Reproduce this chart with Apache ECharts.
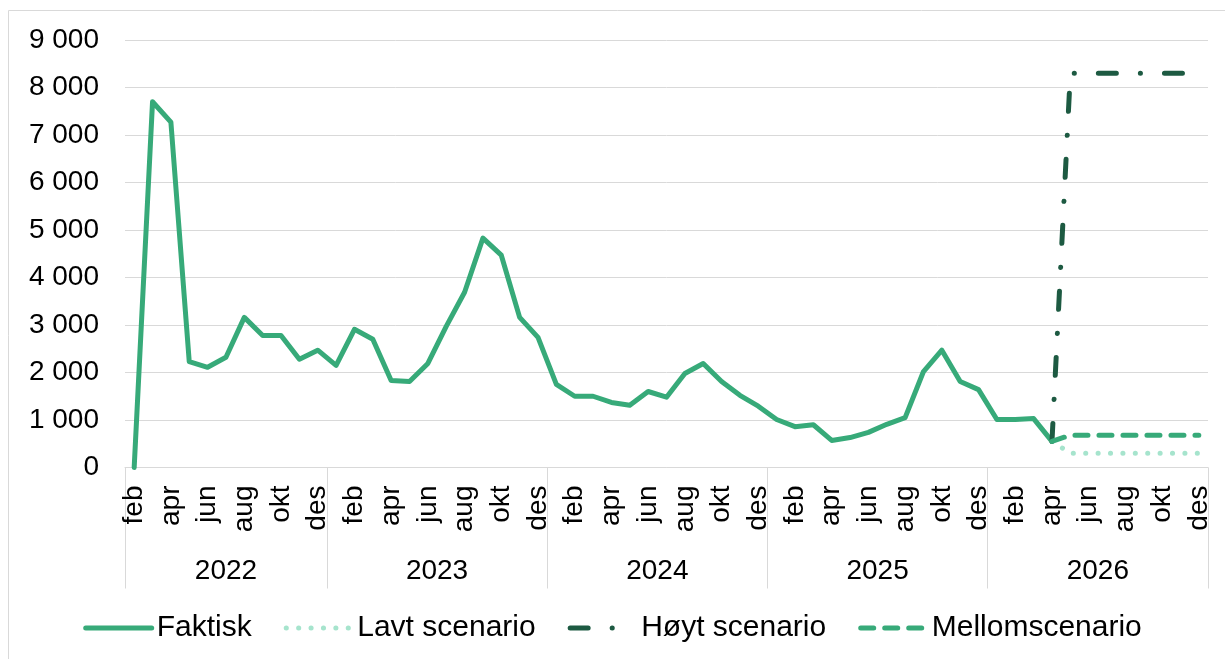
<!DOCTYPE html>
<html>
<head>
<meta charset="utf-8">
<script src="https://cdn.jsdelivr.net/npm/echarts@6/dist/echarts.min.js"></script>
<style>
  html, body { margin: 0; padding: 0; background: #fff; }
  #main { width: 1225px; height: 659px; }
</style>
</head>
<body>
<div id="main"></div>
<script>
// månedsnavn og år
var months = ['jan', 'feb', 'mar', 'apr', 'mai', 'jun', 'jul', 'aug', 'sep', 'okt', 'nov', 'des'];
var years = ['2022', '2023', '2024', '2025', '2026'];

// faktisk: feb 2022 - apr 2026
var faktisk = [
    0, 7700, 7270, 2230, 2110, 2320, 3160, 2780, 2780, 2280, 2470,
    2150, 2910, 2700, 1830, 1810, 2190, 2970, 3690, 4830, 4470, 3160, 2740,
    1750, 1500, 1500, 1370, 1310, 1600, 1480, 1980, 2190, 1810, 1520, 1290,
    1010, 860, 900, 570, 630, 740, 910, 1050, 2020, 2470, 1810, 1640,
    1010, 1010, 1030, 550
];
// scenarier: apr 2026 - des 2026
var lavt = [550, 300, 300, 300, 300, 300, 300, 300, 300];
var hoyt = [550, 8300, 8300, 8300, 8300, 8300, 8300, 8300, 8300];
var mellom = [550, 680, 680, 680, 680, 680, 680, 680, 680];

var categories = [];
years.forEach(function (y, i) {
    months.forEach(function (m, j) {
        if (i === 0 && j === 0) return; // starter i feb 2022
        categories.push(y + '-' + m);
    });
});

// år: grenser og midtpunkt i antall måneder fra start
var yearBounds = [0];
var yearMid = [];
var count = 0;
years.forEach(function (y, i) {
    var n = i === 0 ? 11 : 12;
    yearMid.push(count + n / 2);
    count += n;
    yearBounds.push(count);
});

function pad(arr, before) {
    var out = [];
    for (var i = 0; i < before; i++) out.push(null);
    return out.concat(arr);
}
var startScen = faktisk.length - 1;

var font = 'Liberation Sans, Arial, sans-serif';
var grey = '#d9d9d9';

var myChart = echarts.init(document.getElementById('main'));

var option = {
    animation: false,
    textStyle: { fontFamily: font },
    grid: { left: 125, right: 17, top: 40, bottom: 191.5, containLabel: false },
    legend: {
        top: 608,
        left: 'center',
        itemWidth: 66,
        itemHeight: 14,
        itemGap: 32,
        itemStyle: { opacity: 0, borderWidth: 0 },
        lineStyle: { width: 5, cap: 'round' },
        textStyle: { fontSize: 30, color: '#000', fontFamily: font },
        data: ['Faktisk', 'Lavt scenario', 'Høyt scenario', 'Mellomscenario']
    },
    xAxis: [{
        type: 'category',
        data: categories,
        boundaryGap: true,
        axisLine: { lineStyle: { color: grey, width: 1 } },
        axisTick: { show: false },
        axisLabel: {
            interval: 1,
            rotate: 90,
            margin: 18,
            fontSize: 28,
            color: '#000',
            fontFamily: font,
            formatter: function (v) { return v.split('-')[1]; }
        }
    }, {
        type: 'value',
        position: 'bottom',
        min: 0,
        max: count,
        axisLine: { show: false },
        splitLine: { show: false },
        axisTick: {
            show: true,
            length: 121,
            customValues: yearBounds,
            lineStyle: { color: grey, width: 1 }
        },
        axisLabel: {
            customValues: yearMid,
            margin: 90,
            fontSize: 28,
            color: '#000',
            fontFamily: font,
            formatter: function (v) {
                return years[yearMid.indexOf(v)] || '';
            }
        }
    }],
    yAxis: {
        type: 'value',
        min: 0,
        max: 9000,
        interval: 1000,
        axisLine: { show: false },
        axisTick: { show: false },
        splitLine: { lineStyle: { color: grey, width: 1 } },
        axisLabel: {
            margin: 26,
            fontSize: 28,
            color: '#000',
            fontFamily: font,
            formatter: function (v) {
                return String(v).replace(/\B(?=(\d{3})+(?!\d))/g, ' ');
            }
        }
    },
    graphic: [{
        type: 'rect',
        shape: { x: 8.5, y: 10.5, width: 1240, height: 700 },
        style: { fill: 'none', stroke: grey, lineWidth: 1 },
        silent: true
    }],
    series: [{
        name: 'Faktisk',
        type: 'line',
        data: faktisk,
        symbol: 'none',
        color: '#37aa79',
        lineStyle: { width: 5, color: '#37aa79', cap: 'round', join: 'round' }
    }, {
        name: 'Lavt scenario',
        type: 'line',
        data: pad(lavt, startScen),
        symbol: 'none',
        color: '#a6e4cd',
        lineStyle: { width: 5, color: '#a6e4cd', type: [0.1, 12.3], cap: 'round' }
    }, {
        name: 'Høyt scenario',
        type: 'line',
        data: pad(hoyt, startScen),
        symbol: 'none',
        color: '#1d5a42',
        lineStyle: { width: 5, color: '#1d5a42', type: [18, 24, 0.1, 24], cap: 'round' }
    }, {
        name: 'Mellomscenario',
        type: 'line',
        data: pad(mellom, startScen),
        symbol: 'none',
        color: '#37aa79',
        lineStyle: { width: 5, color: '#37aa79', type: [13, 11], cap: 'round' }
    }]
};

myChart.setOption(option);
</script>
</body>
</html>
